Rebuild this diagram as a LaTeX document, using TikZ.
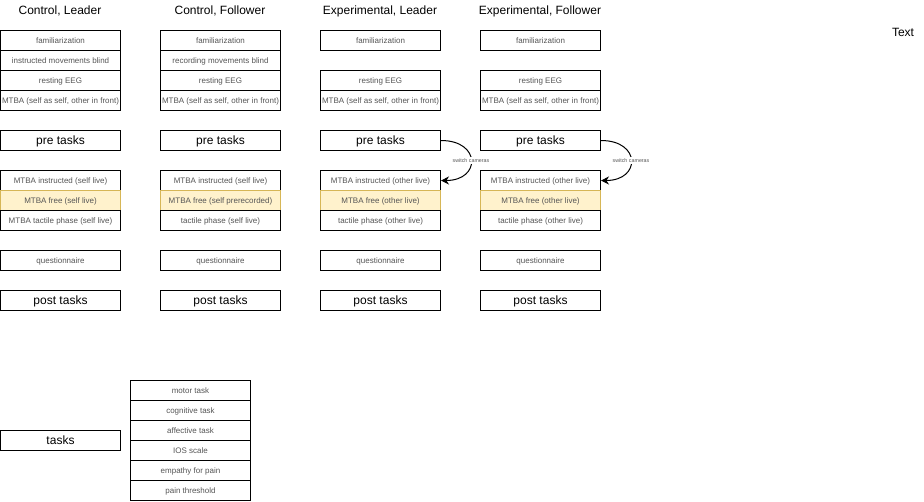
\documentclass[tikz,border=0pt]{standalone}
\usepackage{fontspec}
\setmainfont{Liberation Sans}
\usetikzlibrary{arrows.meta}
\definecolor{hlfill}{HTML}{FFF2CC}
\definecolor{hldraw}{HTML}{D6B656}
\definecolor{smalltext}{HTML}{555555}
\tikzset{
  cell/.style={rectangle, draw=black, line width=0.75pt, fill=white,
    minimum width=90pt, minimum height=15pt, inner sep=0pt,
    text depth=0pt,
    font=\fontsize{6pt}{7pt}\selectfont, text=smalltext},
  bigcell/.style={cell, font=\fontsize{9pt}{10pt}\selectfont, text=black},
  hlcell/.style={cell, fill=hlfill, draw=hldraw},
  header/.style={font=\fontsize{9pt}{10pt}\selectfont, inner sep=0pt},
  swlabel/.style={font=\fontsize{4pt}{5pt}\selectfont, text=smalltext,
    fill=white, inner sep=1pt},
  swarrow/.style={line width=0.75pt, -{Stealth[length=6pt,width=6pt]}}
}
\begin{document}
\begin{tikzpicture}[x=0.75pt, y=-0.75pt]
\useasboundingbox (0,0) rectangle (924,501);

% column headers
\node[header] (h1) at (60,11) {Control, Leader};
\node[header] (h2) at (220,11) {Control, Follower};
\node[header] (h3) at (380,11) {Experimental, Leader};
\node[header] (h4) at (540,11) {Experimental, Follower};
\node[header] (txt) at (903,32) {Text};

% Control, Leader
\node[cell] (a1) at (60.5,40.5) {familiarization};
\node[cell] (a2) at (60.5,60.5) {instructed movements blind};
\node[cell] (a3) at (60.5,80.5) {resting EEG};
\node[cell] (a4) at (60.5,100.5) {MTBA (self as self, other in front)};
\node[bigcell] (a5) at (60.5,140.5) {pre tasks};
\node[cell] (a6) at (60.5,180.5) {MTBA instructed (self live)};
\node[hlcell] (a7) at (60.5,200.5) {MTBA free (self live)};
\node[cell] (a8) at (60.5,220.5) {MTBA tactile phase (self live)};
\node[cell] (a9) at (60.5,260.5) {questionnaire};
\node[bigcell] (a10) at (60.5,300.5) {post tasks};

% Control, Follower
\node[cell] (b1) at (220.5,40.5) {familiarization};
\node[cell] (b2) at (220.5,60.5) {recording movements blind};
\node[cell] (b3) at (220.5,80.5) {resting EEG};
\node[cell] (b4) at (220.5,100.5) {MTBA (self as self, other in front)};
\node[bigcell] (b5) at (220.5,140.5) {pre tasks};
\node[cell] (b6) at (220.5,180.5) {MTBA instructed (self live)};
\node[hlcell] (b7) at (220.5,200.5) {MTBA free (self prerecorded)};
\node[cell] (b8) at (220.5,220.5) {tactile phase (self live)};
\node[cell] (b9) at (220.5,260.5) {questionnaire};
\node[bigcell] (b10) at (220.5,300.5) {post tasks};

% Experimental, Leader
\node[cell] (c1) at (380.5,40.5) {familiarization};
\node[cell] (c3) at (380.5,80.5) {resting EEG};
\node[cell] (c4) at (380.5,100.5) {MTBA (self as self, other in front)};
\node[bigcell] (c5) at (380.5,140.5) {pre tasks};
\node[cell] (c6) at (380.5,180.5) {MTBA instructed (other live)};
\node[hlcell] (c7) at (380.5,200.5) {MTBA free (other live)};
\node[cell] (c8) at (380.5,220.5) {tactile phase (other live)};
\node[cell] (c9) at (380.5,260.5) {questionnaire};
\node[bigcell] (c10) at (380.5,300.5) {post tasks};

% Experimental, Follower
\node[cell] (d1) at (540.5,40.5) {familiarization};
\node[cell] (d3) at (540.5,80.5) {resting EEG};
\node[cell] (d4) at (540.5,100.5) {MTBA (self as self, other in front)};
\node[bigcell] (d5) at (540.5,140.5) {pre tasks};
\node[cell] (d6) at (540.5,180.5) {MTBA instructed (other live)};
\node[hlcell] (d7) at (540.5,200.5) {MTBA free (other live)};
\node[cell] (d8) at (540.5,220.5) {tactile phase (other live)};
\node[cell] (d9) at (540.5,260.5) {questionnaire};
\node[bigcell] (d10) at (540.5,300.5) {post tasks};

% camera switch before the MTBA block
\draw[swarrow] (c5.east) .. controls +(40,0) and +(40,0) .. (c6.east)
  node[pos=0.5, swlabel] {switch cameras};
\draw[swarrow] (d5.east) .. controls +(40,0) and +(40,0) .. (d6.east)
  node[pos=0.5, swlabel] {switch cameras};

% task list
\node[bigcell] (t0) at (60.5,440.5) {tasks};
\node[cell] (t1) at (190.5,390.5) {motor task};
\node[cell] (t2) at (190.5,410.5) {cognitive task};
\node[cell] (t3) at (190.5,430.5) {affective task};
\node[cell] (t4) at (190.5,450.5) {IOS scale};
\node[cell] (t5) at (190.5,470.5) {empathy for pain};
\node[cell] (t6) at (190.5,490.5) {pain threshold};
\end{tikzpicture}
\end{document}
